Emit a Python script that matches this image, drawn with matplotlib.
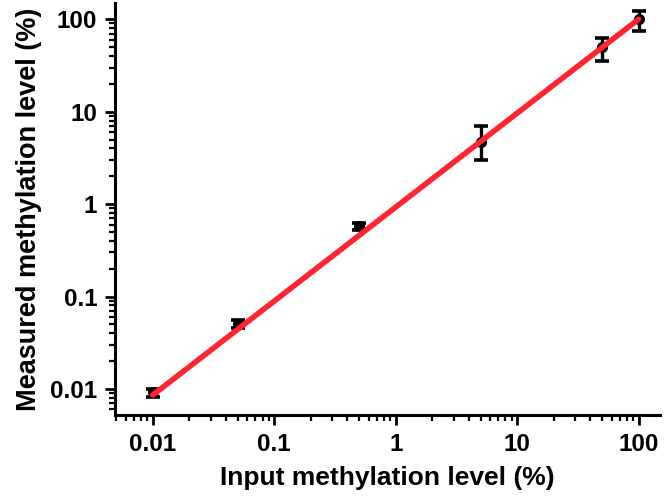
import matplotlib
matplotlib.use("Agg")
import matplotlib.pyplot as plt
import numpy as np
from matplotlib.ticker import LogLocator, FixedLocator, FixedFormatter, NullFormatter

input_level = [0.01, 0.05, 0.5, 5, 50, 100]
measured = [0.0092, 0.051, 0.58, 4.7, 50, 100]
err_low = [0.0082, 0.046, 0.53, 3.0, 35, 75]
err_high = [0.0100, 0.056, 0.63, 7.0, 63, 122]
fit_x = [0.01, 100]
fit_y = [0.0086, 100]
tick_vals = [0.01, 0.1, 1, 10, 100]
tick_labels = ["0.01", "0.1", "1", "10", "100"]

plt.rcParams['font.family'] = ['Liberation Sans', 'DejaVu Sans']
plt.rcParams['font.weight'] = 'bold'

fig = plt.figure(figsize=(6.7, 4.99), dpi=100)
ax = fig.add_axes([0.172, 0.168, 0.813, 0.826])

m = np.array(measured)
yerr = [m - np.array(err_low), np.array(err_high) - m]
ax.errorbar(input_level, measured, yerr=yerr, fmt='o', color='black', ms=7,
            elinewidth=2.4, capsize=5, capthick=2.6, zorder=2)
ax.plot(fit_x, fit_y, color='#ff2430', lw=4, solid_capstyle='round', zorder=3)

ax.set_xscale('log')
ax.set_yscale('log')
ax.set_xlim(0.0049, 150)
ax.set_ylim(0.0052, 150)

for a in (ax.xaxis, ax.yaxis):
    a.set_major_locator(FixedLocator(tick_vals))
    a.set_major_formatter(FixedFormatter(tick_labels))
    a.set_minor_locator(LogLocator(base=10, subs=np.arange(2, 10), numticks=20))
    a.set_minor_formatter(NullFormatter())

ax.spines['top'].set_visible(False)
ax.spines['right'].set_visible(False)
for s in ('left', 'bottom'):
    ax.spines[s].set_linewidth(2.2)
ax.tick_params(which='major', direction='out', length=7, width=2, labelsize=17.5, pad=6)
ax.tick_params(which='minor', direction='out', length=4, width=1.6)

ax.set_xlabel('Input methylation level (%)', fontsize=19, fontweight='bold', labelpad=7)
ax.set_ylabel('Measured methylation level (%)', fontsize=19.5, fontweight='bold', labelpad=6)

fig.savefig('out.png', dpi=100)
